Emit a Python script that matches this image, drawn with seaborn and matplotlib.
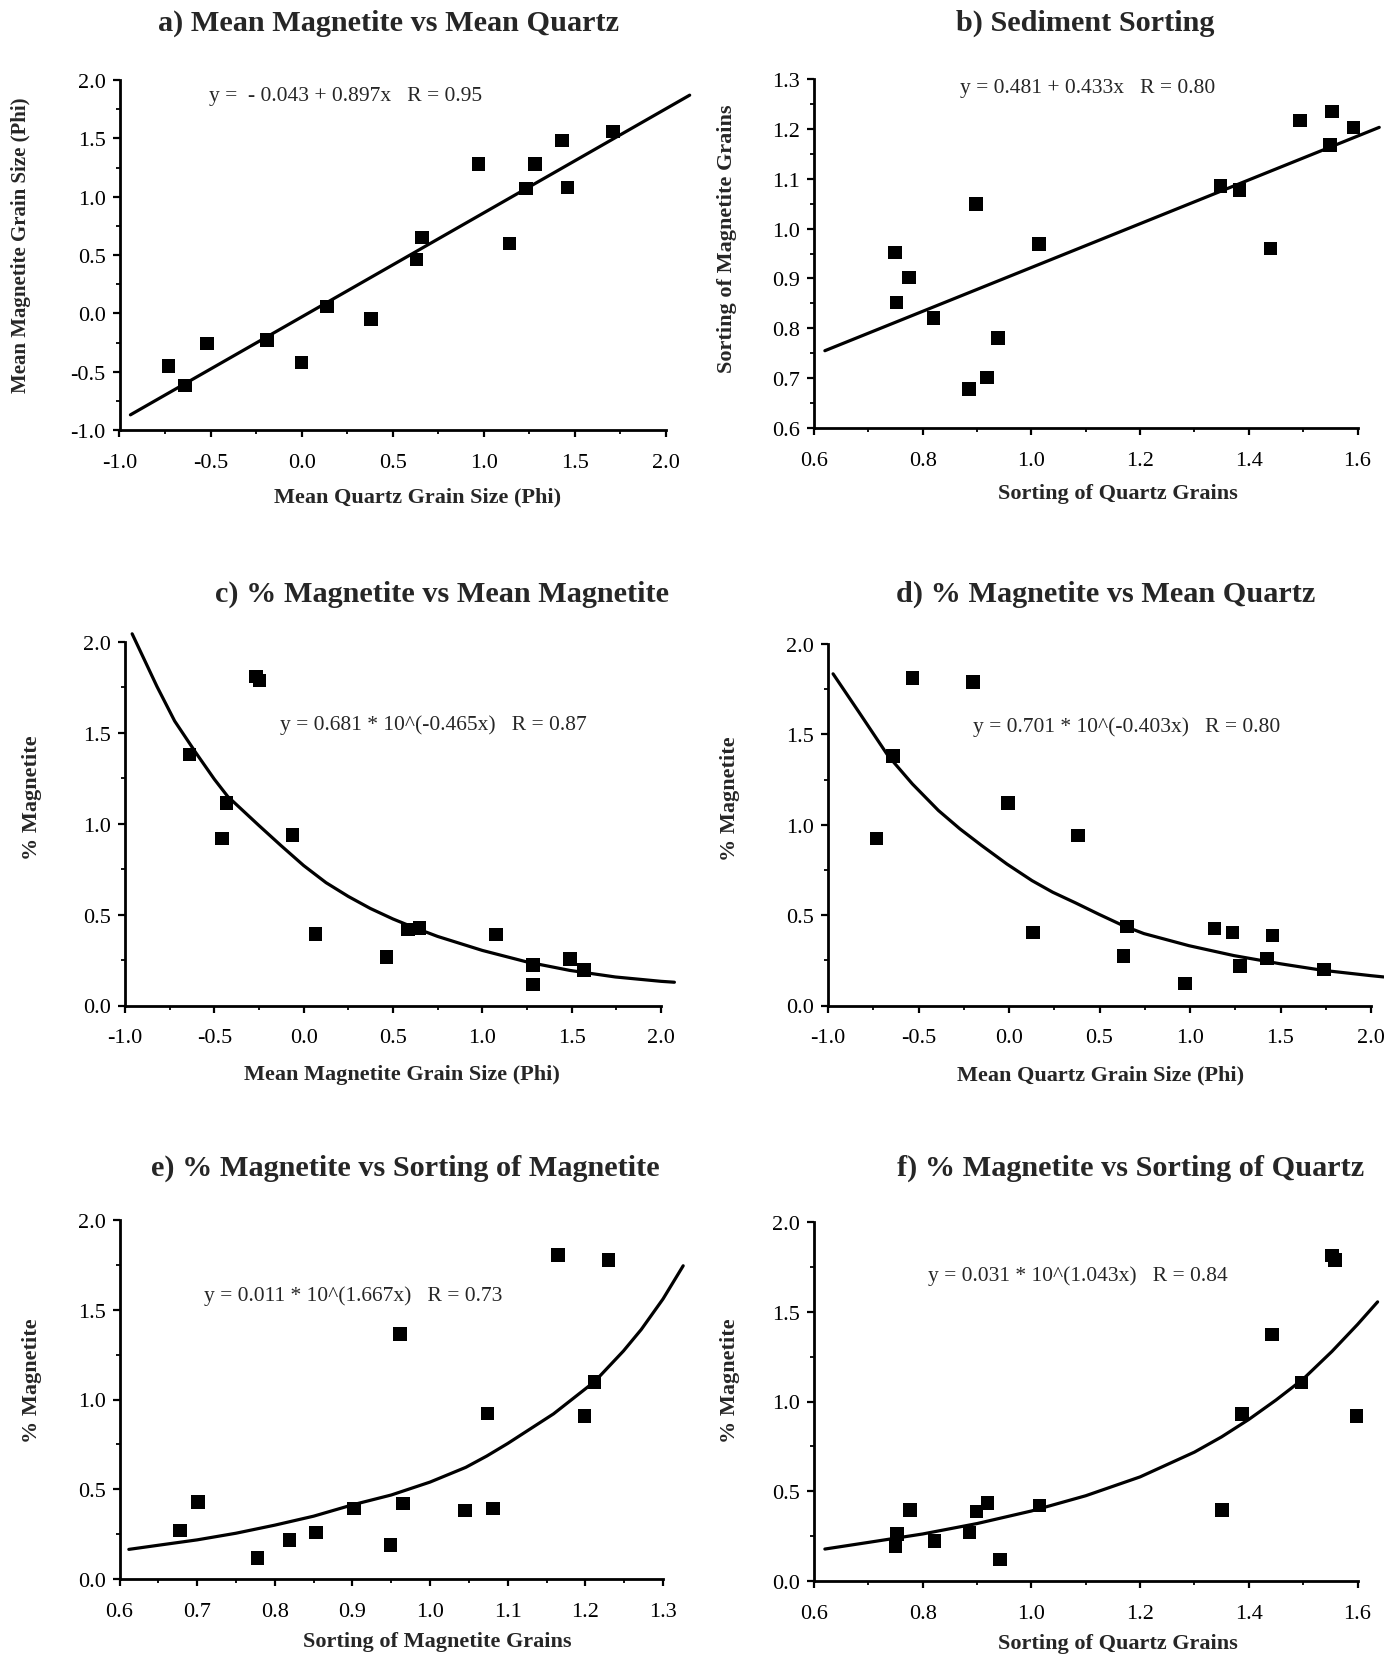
import numpy as np
import pandas as pd
import matplotlib
matplotlib.use("Agg")
import matplotlib.pyplot as plt
from matplotlib.ticker import MultipleLocator, FormatStrFormatter
import seaborn as sns

# ---------------- data ----------------
# a) Mean magnetite vs mean quartz
a_x = [-0.73, -0.64, -0.52, -0.19, 0.00, 0.14, 0.38, 0.63, 0.66, 0.97, 1.14, 1.23, 1.28, 1.43, 1.46, 1.71]
a_y = [-0.45, -0.62, -0.26, -0.23, -0.42, 0.06, -0.05, 0.46, 0.65, 1.28, 0.60, 1.07, 1.28, 1.48, 1.08, 1.56]
a_line_x = [-0.94, 2.13]
a_line_y = [-0.87, 1.87]
a_eq = "y =  - 0.043 + 0.897x   R = 0.95"

# b) Sediment sorting
b_x = [0.749, 0.752, 0.775, 0.820, 0.885, 0.898, 0.918, 0.939, 1.014, 1.348, 1.383, 1.440, 1.494, 1.549, 1.553, 1.593]
b_y = [0.952, 0.852, 0.902, 0.821, 0.678, 1.049, 0.701, 0.781, 0.969, 1.085, 1.077, 0.960, 1.217, 1.168, 1.235, 1.203]
b_line_x = [0.62, 1.64]
b_line_y = [0.755, 1.203]
b_eq = "y = 0.481 + 0.433x   R = 0.80"

# c) % magnetite vs mean magnetite
c_x = [-0.638, -0.458, -0.431, -0.267, -0.247, -0.062, 0.065, 0.463, 0.583, 0.649, 1.077, 1.284, 1.284, 1.492, 1.568]
c_y = [1.380, 0.920, 1.115, 1.811, 1.789, 0.937, 0.394, 0.268, 0.418, 0.427, 0.390, 0.222, 0.115, 0.257, 0.194]
c_curve_x = [-0.96, -0.821, -0.722, -0.603, -0.50, -0.425, -0.25, -0.127, 0.0, 0.125, 0.25,
             0.373, 0.50, 0.61, 0.75, 1.0, 1.248, 1.49, 1.744, 2.0, 2.075]
c_curve_y = [2.045, 1.755, 1.565, 1.39, 1.245, 1.15, 0.99, 0.88, 0.77, 0.676, 0.600,
             0.534, 0.476, 0.432, 0.380, 0.303, 0.240, 0.193, 0.157, 0.133, 0.128]
c_eq = "y = 0.681 * 10^(-0.465x)   R = 0.87"

# d) % magnetite vs mean quartz
d_x = [-0.732, -0.642, -0.534, -0.200, -0.006, 0.134, 0.380, 0.633, 0.652, 0.972, 1.136, 1.234, 1.276, 1.426, 1.455, 1.740]
d_y = [0.925, 1.381, 1.813, 1.789, 1.121, 0.403, 0.941, 0.275, 0.438, 0.121, 0.425, 0.403, 0.220, 0.260, 0.388, 0.200]
d_curve_x = [-0.972, -0.829, -0.669, -0.534, -0.39, -0.271, -0.151, -0.012, 0.127, 0.241, 0.367,
             0.496, 0.635, 0.745, 0.994, 1.243, 1.492, 1.731, 2.0, 2.07]
d_curve_y = [1.835, 1.623, 1.383, 1.226, 1.079, 0.977, 0.885, 0.783, 0.691, 0.627, 0.568,
             0.505, 0.44, 0.398, 0.331, 0.276, 0.232, 0.195, 0.165, 0.158]
d_eq = "y = 0.701 * 10^(-0.403x)   R = 0.80"

# e) % magnetite vs sorting of magnetite
e_x = [0.678, 0.701, 0.778, 0.819, 0.853, 0.902, 0.949, 0.961, 0.965, 1.045, 1.074, 1.081, 1.165, 1.199, 1.212, 1.230]
e_y = [0.271, 0.429, 0.118, 0.218, 0.258, 0.392, 0.190, 1.365, 0.420, 0.381, 0.922, 0.392, 1.806, 0.909, 1.098, 1.778]
e_curve_x = [0.612, 0.65, 0.70, 0.75, 0.80, 0.85, 0.90, 0.95, 1.00, 1.046, 1.073, 1.10,
             1.159, 1.212, 1.249, 1.272, 1.30, 1.326]
e_curve_y = [0.165, 0.188, 0.218, 0.255, 0.30, 0.35, 0.413, 0.468, 0.54, 0.622, 0.685, 0.755,
             0.92, 1.10, 1.27, 1.39, 1.56, 1.745]
e_eq = "y = 0.011 * 10^(1.667x)   R = 0.73"

# f) % magnetite vs sorting of quartz
f_x = [0.750, 0.753, 0.777, 0.822, 0.886, 0.899, 0.919, 0.942, 1.015, 1.351, 1.387, 1.443, 1.497, 1.553, 1.559, 1.598]
f_y = [0.196, 0.262, 0.396, 0.224, 0.271, 0.387, 0.434, 0.120, 0.421, 0.396, 0.929, 1.374, 1.107, 1.813, 1.789, 0.920]
f_curve_x = [0.62, 0.70, 0.80, 0.90, 1.0, 1.1, 1.2, 1.3, 1.35, 1.40, 1.45, 1.50, 1.553, 1.60, 1.637]
f_curve_y = [0.178, 0.215, 0.262, 0.32, 0.39, 0.475, 0.58, 0.718, 0.803, 0.90, 1.008, 1.125, 1.279, 1.429, 1.555]
f_eq = "y = 0.031 * 10^(1.043x)   R = 0.84"

titles = ["a) Mean Magnetite vs Mean Quartz", "b) Sediment Sorting",
          "c) % Magnetite vs Mean Magnetite", "d) % Magnetite vs Mean Quartz",
          "e) % Magnetite vs Sorting of Magnetite", "f) % Magnetite vs Sorting of Quartz"]
xlabels = ["Mean Quartz Grain Size (Phi)", "Sorting of Quartz Grains",
           "Mean Magnetite Grain Size (Phi)", "Mean Quartz Grain Size (Phi)",
           "Sorting of Magnetite Grains", "Sorting of Quartz Grains"]
ylabels = ["Mean Magnetite Grain Size (Phi)", "Sorting of Magnetite Grains",
           "% Magnetite", "% Magnetite", "% Magnetite", "% Magnetite"]

# ---------------- style ----------------
sns.set_style("ticks")
plt.rcParams['font.family'] = ['Liberation Serif', 'DejaVu Serif']
plt.rcParams['axes.unicode_minus'] = False

W, H = 1384, 1658
fig = plt.figure(figsize=(W / 100, H / 100), dpi=100)

def fx(px):
    return px / W

def fy(py):
    return 1 - py / H

# axes boxes in pixels: left, top, right, bottom
boxes = [(119.5, 81, 666, 431), (814, 80, 1357.5, 429),
         (125, 643, 661, 1006.5), (828, 645, 1371, 1006.5),
         (119.5, 1221, 663, 1580), (814, 1223, 1357.5, 1582)]

panels = [
    (a_x, a_y, a_line_x, a_line_y, a_eq, (-1, 2), (-1, 2), 0.5, 0.25, 0.5, 0.25),
    (b_x, b_y, b_line_x, b_line_y, b_eq, (0.6, 1.6), (0.6, 1.3), 0.2, 0.1, 0.1, 0.05),
    (c_x, c_y, c_curve_x, c_curve_y, c_eq, (-1, 2), (0, 2), 0.5, 0.25, 0.5, 0.25),
    (d_x, d_y, d_curve_x, d_curve_y, d_eq, (-1, 2), (0, 2), 0.5, 0.25, 0.5, 0.25),
    (e_x, e_y, e_curve_x, e_curve_y, e_eq, (0.6, 1.3), (0, 2), 0.1, 0.05, 0.5, 0.25),
    (f_x, f_y, f_curve_x, f_curve_y, f_eq, (0.6, 1.6), (0, 2), 0.2, 0.1, 0.5, 0.25),
]

title_pos = [(388, 23), (1085, 23), (442, 594), (1106, 594), (405, 1168), (1131, 1168)]
xlabel_pos = [(418, 497), (1118, 494), (402, 1075), (1101, 1075), (437, 1642), (1118, 1644)]
ylabel_pos = [(21, 245), (727, 239), (32, 798), (730, 799), (32, 1381), (730, 1381)]
eq_pos = [(209, 96), (960, 89), (280, 725), (973, 727), (204, 1296), (928, 1276)]

for i, (box, p) in enumerate(zip(boxes, panels)):
    l, t, r, b = box
    ax = fig.add_axes([fx(l), fy(b), fx(r - l), (b - t) / H])
    px, py, lx, ly, eq, xl, yl, xmaj, xmin, ymaj, ymin = p
    sns.scatterplot(x=px, y=py, marker='s', s=95, color='black', edgecolor='none',
                    linewidth=0, ax=ax, zorder=3, clip_on=False)
    sns.lineplot(x=lx, y=ly, color='black', lw=2.3, ax=ax, sort=False,
                 estimator=None, clip_on=False, zorder=2)
    ax.set_xlim(*xl)
    ax.set_ylim(*yl)
    ax.xaxis.set_major_locator(MultipleLocator(xmaj))
    ax.xaxis.set_minor_locator(MultipleLocator(xmin))
    ax.yaxis.set_major_locator(MultipleLocator(ymaj))
    ax.yaxis.set_minor_locator(MultipleLocator(ymin))
    ax.xaxis.set_major_formatter(FormatStrFormatter('%.1f'))
    ax.yaxis.set_major_formatter(FormatStrFormatter('%.1f'))
    sns.despine(ax=ax)
    for s in ['left', 'bottom']:
        ax.spines[s].set_linewidth(2.0)
        ax.spines[s].set_color('black')
    ax.tick_params(which='major', direction='out', length=5, width=1.6,
                   labelsize=16, colors='black', pad=5)
    ax.tick_params(which='minor', direction='out', length=3, width=1.3, colors='black')
    ax.tick_params(axis='x', which='major', pad=11.5)
    ax.set_xlabel("")
    ax.set_ylabel("")
    ax.set_facecolor('white')

    tx, ty = title_pos[i]
    fig.text(fx(tx), fy(ty), titles[i], ha='center', va='center',
             fontsize=21.8, fontweight='bold')
    xx, xy = xlabel_pos[i]
    fig.text(fx(xx), fy(xy), xlabels[i], ha='center', va='center',
             fontsize=16, fontweight='bold')
    yx, yy = ylabel_pos[i]
    fig.text(fx(yx), fy(yy), ylabels[i], ha='center', va='center',
             rotation=90, fontsize=15 if i == 0 else 16, fontweight='bold')
    ex, ey = eq_pos[i]
    fig.text(fx(ex), fy(ey), eq, ha='left', va='center', fontsize=15.5)

fig.savefig("out.png", dpi=100, facecolor='white')
